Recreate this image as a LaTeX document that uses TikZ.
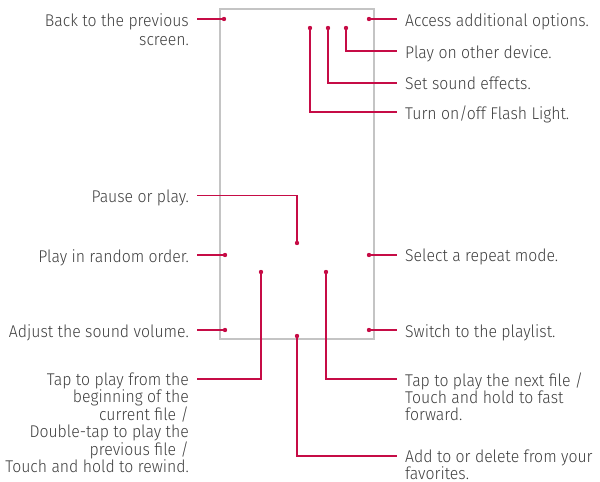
\documentclass[tikz,border=0pt]{standalone}
\usepackage{fontspec}
\setmainfont{Fira Sans Light}[FakeStretch=0.93]
\definecolor{lgred}{RGB}{198,12,70}
\definecolor{screengray}{RGB}{196,196,196}
\definecolor{txtgray}{RGB}{62,62,62}
\tikzset{
  screen/.style={draw=screengray, line width=1.5pt},
  dot/.style={circle, fill=lgred, inner sep=0pt, minimum size=4.4pt},
  lead/.style={draw=lgred, line width=1.2pt},
  lbl/.style={text=txtgray, inner sep=0pt, font=\fontsize{17}{16.8}\selectfont},
  lblL/.style={lbl, align=right, anchor=north east, xshift=-8pt, yshift=6pt},
  lblR/.style={lbl, align=left, anchor=north west, xshift=8pt, yshift=6pt}
}
\begin{document}
\begin{tikzpicture}[x=1pt, y=-1pt]
\useasboundingbox (0,0) rectangle (600,482);
% Bildschirm
\draw[screen] (220,9) rectangle (374,339);
% Punkte auf dem Bildschirm
\node[dot] (dBack)    at (224,19)  {};
\node[dot] (dAccess)  at (369,19)  {};
\node[dot] (dCast)    at (346,28)  {};
\node[dot] (dEffect)  at (328,28)  {};
\node[dot] (dFlash)   at (310,28)  {};
\node[dot] (dPause)   at (297,243) {};
\node[dot] (dShuffle) at (225,255) {};
\node[dot] (dRepeat)  at (369,255) {};
\node[dot] (dPrev)    at (261,272) {};
\node[dot] (dNext)    at (326,272) {};
\node[dot] (dVolume)  at (225,330) {};
\node[dot] (dList)    at (369,330) {};
\node[dot] (dFav)     at (297,336) {};
% Enden der Linien links (x=197) und rechts (x=397)
\coordinate (eBack)    at (197,19);
\coordinate (ePause)   at (197,195.5);
\coordinate (eShuffle) at (197,255);
\coordinate (eVolume)  at (197,330);
\coordinate (ePrev)    at (197,379);
\coordinate (eAccess)  at (397,19);
\coordinate (eCast)    at (397,51);
\coordinate (eEffect)  at (397,83);
\coordinate (eFlash)   at (397,112);
\coordinate (eRepeat)  at (397,255);
\coordinate (eList)    at (397,330);
\coordinate (eNext)    at (397,379);
\coordinate (eFav)     at (397,456);
% Linien
\draw[lead] (eBack) -- (dBack);
\draw[lead] (dAccess) -- (eAccess);
\draw[lead] (dCast) |- (eCast);
\draw[lead] (dEffect) |- (eEffect);
\draw[lead] (dFlash) |- (eFlash);
\draw[lead] (ePause) -| (dPause);
\draw[lead] (eShuffle) -- (dShuffle);
\draw[lead] (dRepeat) -- (eRepeat);
\draw[lead] (dPrev) |- (ePrev);
\draw[lead] (dNext) |- (eNext);
\draw[lead] (eVolume) -- (dVolume);
\draw[lead] (dList) -- (eList);
\draw[lead] (dFav) |- (eFav);
% Texte links
\node[lblL] (tBack)    at (eBack)    {Back to the previous\\[3pt]screen.};
\node[lblL] (tPause)   at (ePause)   {Pause or play.};
\node[lblL] (tShuffle) at (eShuffle) {Play in random order.};
\node[lblL] (tVolume)  at (eVolume)  {Adjust the sound volume.};
\node[lblL] (tPrev)    at (ePrev)    {Tap to play from the\\beginning of the\\current file /\\Double-tap to play the\\previous file /\\Touch and hold to rewind.};
% Texte rechts
\node[lblR] (tAccess)  at (eAccess)  {Access additional options.};
\node[lblR] (tCast)    at (eCast)    {Play on other device.};
\node[lblR] (tEffect)  at (eEffect)  {Set sound effects.};
\node[lblR] (tFlash)   at (eFlash)   {Turn on/off Flash Light.};
\node[lblR] (tRepeat)  at (eRepeat)  {Select a repeat mode.};
\node[lblR] (tList)    at (eList)    {Switch to the playlist.};
\node[lblR] (tNext)    at (eNext)    {Tap to play the next file /\\Touch and hold to fast\\forward.};
\node[lblR] (tFav)     at (eFav)     {Add to or delete from your\\favorites.};
\end{tikzpicture}
\end{document}
